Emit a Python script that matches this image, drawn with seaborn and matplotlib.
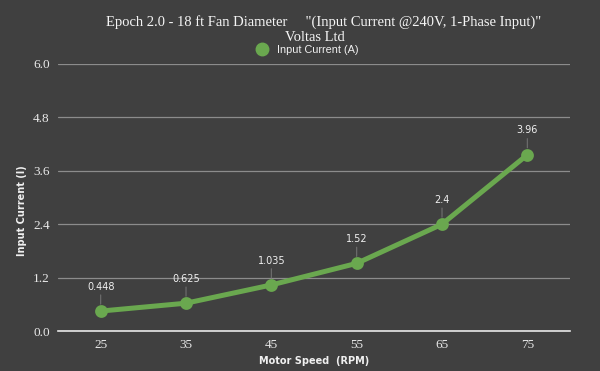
import matplotlib
matplotlib.use('Agg')
import matplotlib.pyplot as plt
import seaborn as sns
import pandas as pd

# chart data
motor_speed = ['25', '35', '45', '55', '65', '75']
input_current = [0.448, 0.625, 1.035, 1.52, 2.4, 3.96]
current_labels = ['0.448', '0.625', '1.035', '1.52', '2.4', '3.96']
y_ticks = [0.0, 1.2, 2.4, 3.6, 4.8, 6.0]

BG = '#404040'
GREEN = '#6aa84f'

sns.set_theme(style='dark')
plt.rcParams['font.family'] = ['Liberation Serif', 'DejaVu Serif']

df = pd.DataFrame({'speed': motor_speed, 'current': input_current})

fig = plt.figure(figsize=(6, 3.71), dpi=100, facecolor=BG)
ax = fig.add_axes([0.0967, 0.1078, 0.8533, 0.7197])
ax.set_facecolor(BG)

sns.pointplot(data=df, x='speed', y='current', color=GREEN, ax=ax,
              linewidth=3.6, markersize=6.5)

ax.set_xlim(-0.5, 5.5)
ax.set_ylim(0, 6.0)
ax.set_yticks(y_ticks)
ax.set_yticklabels([f'{t:.1f}' for t in y_ticks])
ax.yaxis.grid(True, color='#8c8c8c', linewidth=0.9)
ax.xaxis.grid(False)
ax.set_axisbelow(True)
for s in ['top', 'right', 'left']:
    ax.spines[s].set_visible(False)
ax.spines['bottom'].set_color('#e8e8e8')
ax.spines['bottom'].set_linewidth(1.2)
ax.tick_params(axis='both', colors='#e8e8e8', labelsize=9.5, length=0, pad=6)

ax.set_xlabel('Motor Speed  (RPM)', family='DejaVu Sans', fontweight='bold',
              fontsize=7, color='#f0f0f0')
ax.set_ylabel('Input Current (I)', family='DejaVu Sans', fontweight='bold',
              fontsize=7, color='#f0f0f0')
ax.xaxis.set_label_coords(0.5, -0.095)
ax.yaxis.set_label_coords(-0.06, 0.45)

for i, (v, lab) in enumerate(zip(input_current, current_labels)):
    ax.annotate(lab, xy=(i, v), xytext=(0, 14), textcoords='offset points',
                ha='center', va='bottom', fontsize=7, color='#f0f0f0',
                family='DejaVu Sans',
                arrowprops=dict(arrowstyle='-', color='#707070', lw=0.8,
                                shrinkA=0, shrinkB=5))

fig.text(0.54, 0.94, 'Epoch 2.0 - 18 ft Fan Diameter     "(Input Current @240V, 1-Phase Input)"',
         ha='center', va='center', fontsize=10.5, color='#f5f5f5')
fig.text(0.525, 0.9, 'Voltas Ltd', ha='center', va='center',
         fontsize=10.5, color='#f5f5f5')

leg = fig.legend(handles=[plt.Line2D([], [], marker='o', linestyle='none',
                                     markersize=9, color=GREEN)],
                 labels=['Input Current (A)'], loc='center',
                 bbox_to_anchor=(0.508, 0.866), frameon=False,
                 prop={'family': 'Liberation Sans', 'size': 7.8},
                 handletextpad=0.3, borderaxespad=0)
for t in leg.get_texts():
    t.set_color('#f0f0f0')

fig.savefig('out.png', dpi=100, facecolor=BG)
